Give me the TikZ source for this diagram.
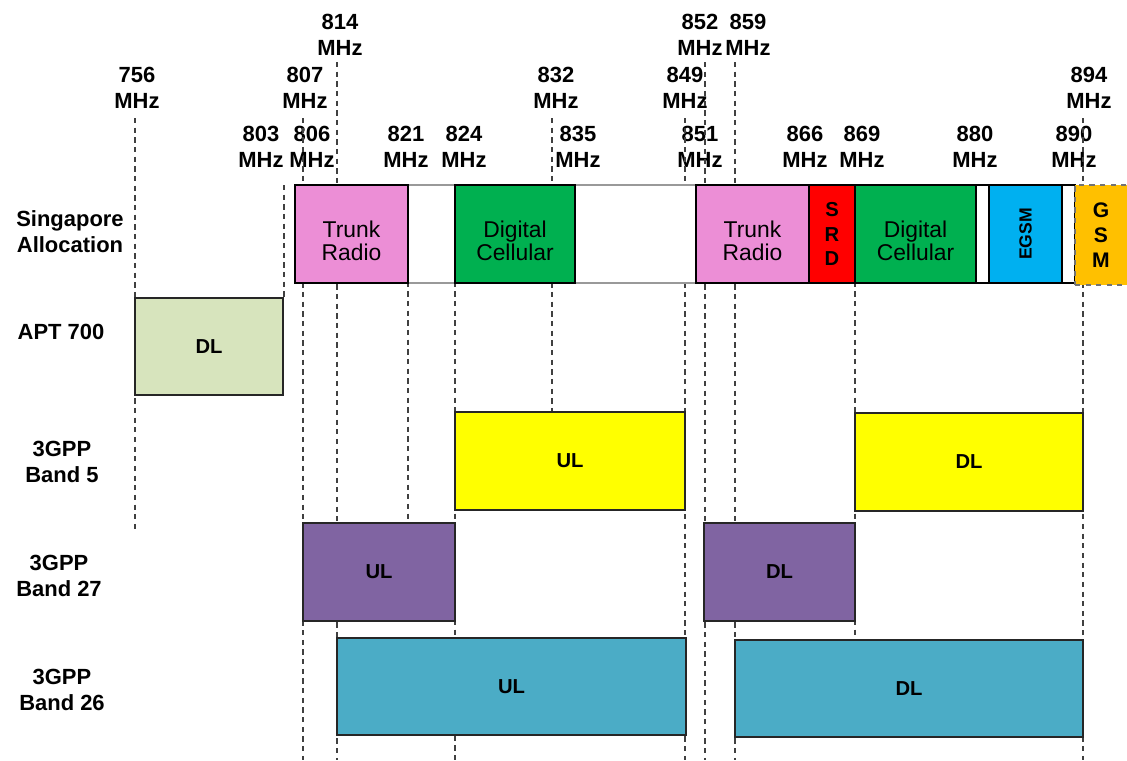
\documentclass[tikz,border=0pt]{standalone}
\usepackage{fontspec}
\setmainfont{Liberation Sans}
\usetikzlibrary{fit}

\definecolor{trunkpink}{RGB}{236,142,214}
\definecolor{cellgreen}{RGB}{0,176,80}
\definecolor{srdred}{RGB}{255,0,0}
\definecolor{egsmblue}{RGB}{0,176,240}
\definecolor{gsmorange}{RGB}{255,192,0}
\definecolor{aptgreen}{RGB}{215,228,189}
\definecolor{bandyellow}{RGB}{255,255,0}
\definecolor{bandpurple}{RGB}{128,100,162}
\definecolor{bandteal}{RGB}{75,172,198}

\newcommand\freqfont{\fontsize{12.5}{14.7}\selectfont\bfseries}
\newcommand\allocfont{\fontsize{13}{13.2}\selectfont}
\newcommand\bandfont{\fontsize{11.5}{13}\selectfont\bfseries}

\begin{document}
\begin{tikzpicture}[x=0.02cm, y=-0.02cm,
  freq/.style={font=\freqfont, align=center, inner sep=0pt},
  rowlabel/.style={font=\freqfont, align=center, inner sep=0pt},
  alloc/.style={draw=black, line width=1pt, inner sep=0pt},
  alloctext/.style={font=\allocfont, align=center, inner sep=0pt, yshift=-4pt},
  gap/.style={draw=black!40, line width=1.2pt, fill=white, inner sep=0pt},
  band/.style={draw=black!85, line width=1pt, inner sep=0pt},
  bandtext/.style={font=\bandfont, inner sep=0pt},
  guide/.style={draw=black!75, line width=0.9pt, dash pattern=on 3pt off 2.5pt}]
  \useasboundingbox (0,0) rectangle (1127,761);

  % frequency marks
  \node [freq] (f814) at (340,35) {814\\MHz};
  \node [freq] (f852) at (700,35) {852\\MHz};
  \node [freq] (f859) at (748,35) {859\\MHz};
  \node [freq] (f756) at (137,88) {756\\MHz};
  \node [freq] (f807) at (305,88) {807\\MHz};
  \node [freq] (f832) at (556,88) {832\\MHz};
  \node [freq] (f849) at (685,88) {849\\MHz};
  \node [freq] (f894) at (1089,88) {894\\MHz};
  \node [freq] (f803) at (261,147) {803\\MHz};
  \node [freq] (f806) at (312,147) {806\\MHz};
  \node [freq] (f821) at (406,147) {821\\MHz};
  \node [freq] (f824) at (464,147) {824\\MHz};
  \node [freq] (f835) at (578,147) {835\\MHz};
  \node [freq] (f851) at (700,147) {851\\MHz};
  \node [freq] (f866) at (805,147) {866\\MHz};
  \node [freq] (f869) at (862,147) {869\\MHz};
  \node [freq] (f880) at (975,147) {880\\MHz};
  \node [freq] (f890) at (1074,147) {890\\MHz};

  \foreach \x/\ya/\yb in {135/118/530, 284/185/298, 303/118/760, 337/62/760,
      408/185/523, 455/185/760, 552/118/412, 685/118/760, 705/62/760,
      735/62/760, 855/185/642, 1083/118/760}
    \draw [guide] (\x,\ya) -- (\x,\yb);

  % row titles
  \node [rowlabel] (rSing) at (70,232) {Singapore\\Allocation};
  \node [rowlabel] (rAPT) at (61,332) {APT 700};
  \node [rowlabel] (rB5) at (62,462) {3GPP\\Band 5};
  \node [rowlabel] (rB27) at (59,576) {3GPP\\Band 27};
  \node [rowlabel] (rB26) at (62,690) {3GPP\\Band 26};

  % Singapore allocation
  \node [gap, fit={(408,185) (455,283)}] (sgGapA) {};
  \node [gap, fit={(575,185) (696,283)}] (sgGapB) {};
  \node [alloc, fill=trunkpink, fit={(295,185) (408,283)}] (sgTrunkA) {};
  \node [alloc, fill=cellgreen, fit={(455,185) (575,283)}] (sgCellA) {};
  \node [alloc, fill=trunkpink, fit={(696,185) (809,283)}] (sgTrunkB) {};
  \node [alloc, fill=srdred, fit={(809,185) (855,283)}] (sgSRD) {};
  \node [alloc, fill=cellgreen, fit={(855,185) (976,283)}] (sgCellB) {};
  \node [alloc, fill=white, fit={(976,185) (989,283)}] (sgGapC) {};
  \node [alloc, fill=egsmblue, fit={(989,185) (1062,283)}] (sgEGSM) {};
  \node [alloc, fill=white, fit={(1062,185) (1075,283)}] (sgGapD) {};
  \node [alloc, fill=gsmorange, draw=black!55, dashed, line width=1.2pt,
    fit={(1075,185) (1135,285)}] (sgGSM) {};
  \node [alloctext] (tTrunkA) at (sgTrunkA) {Trunk\\Radio};
  \node [alloctext] (tCellA) at (sgCellA) {Digital\\Cellular};
  \node [alloctext] (tTrunkB) at (sgTrunkB) {Trunk\\Radio};
  \node [alloctext] (tCellB) at (sgCellB) {Digital\\Cellular};
  \node [bandtext, align=center, font=\fontsize{11.5}{14}\selectfont\bfseries] (tSRD) at (sgSRD) {S\\R\\D};
  \node [bandtext, rotate=90, font=\fontsize{10}{12}\selectfont\bfseries] (tEGSM) at (sgEGSM) {EGSM};
  \node [bandtext, align=center, font=\fontsize{12}{14.2}\selectfont\bfseries] (tGSM) at (1101,235) {G\\S\\M};

  % bands
  \node [band, fill=aptgreen, fit={(135,298) (283,395)}] (aptDL) {};
  \node [band, fill=bandyellow, fit={(455,412) (685,510)}] (b5UL) {};
  \node [band, fill=bandyellow, fit={(855,413) (1083,511)}] (b5DL) {};
  \node [band, fill=bandpurple, fit={(303,523) (455,621)}] (b27UL) {};
  \node [band, fill=bandpurple, fit={(704,523) (855,621)}] (b27DL) {};
  \node [band, fill=bandteal, fit={(337,638) (686,735)}] (b26UL) {};
  \node [band, fill=bandteal, fit={(735,640) (1083,737)}] (b26DL) {};
  \node [bandtext] (tAptDL) at (aptDL) {DL};
  \node [bandtext] (tB5UL) at (b5UL) {UL};
  \node [bandtext] (tB5DL) at (b5DL) {DL};
  \node [bandtext] (tB27UL) at (b27UL) {UL};
  \node [bandtext] (tB27DL) at (b27DL) {DL};
  \node [bandtext] (tB26UL) at (b26UL) {UL};
  \node [bandtext] (tB26DL) at (b26DL) {DL};
\end{tikzpicture}
\end{document}
